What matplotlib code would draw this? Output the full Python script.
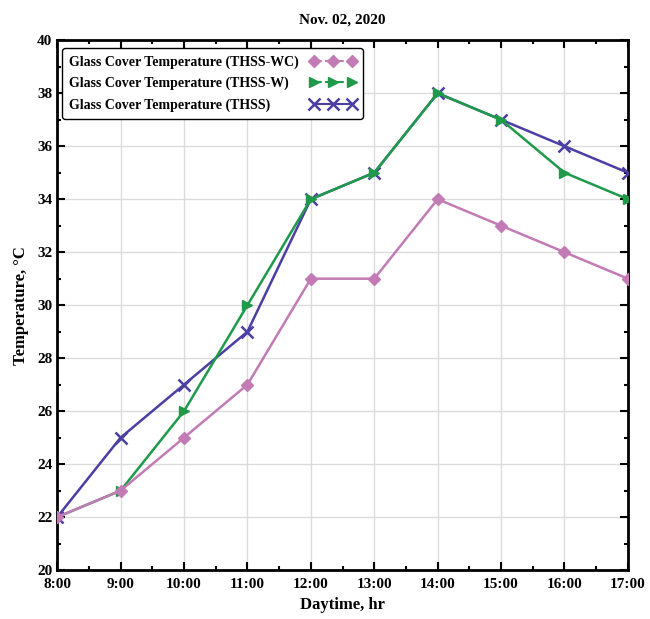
import matplotlib.pyplot as plt
from matplotlib.lines import Line2D

hours = ['8:00', '9:00', '10:00', '11:00', '12:00', '13:00', '14:00', '15:00', '16:00', '17:00']
thss_wc = [22, 23, 25, 27, 31, 31, 34, 33, 32, 31]
thss_w = [22, 23, 26, 30, 34, 35, 38, 37, 35, 34]
thss = [22, 25, 27, 29, 34, 35, 38, 37, 36, 35]

plt.rcParams['font.family'] = 'Liberation Serif'
plt.rcParams['font.weight'] = 'bold'

fig = plt.figure(figsize=(6.5, 6.19), dpi=100)
ax = fig.add_axes([0.088, 0.079, 0.878, 0.856])

x = list(range(len(hours)))
c_wc = '#c27bb5'
c_w = '#1f9a4a'
c_t = '#4b3fa3'

ax.plot(x, thss_wc, color=c_wc, marker='D', ms=6, lw=1.8, zorder=5)
ax.plot(x, thss_w, color=c_w, marker='>', ms=7, lw=1.8, zorder=4)
ax.plot(x, thss, color=c_t, marker='x', ms=8, mew=1.8, lw=1.8, zorder=3)

handles = [
    Line2D([], [], color=c_wc, marker='D', ms=6, lw=1.5, ls='--'),
    Line2D([], [], color=c_w, marker='>', ms=7, lw=1.5, ls='--'),
    Line2D([], [], color=c_t, marker='x', ms=8, mew=1.8, lw=1.5),
]
labels = ['Glass Cover Temperature (THSS-WC)',
          'Glass Cover Temperature (THSS-W)',
          'Glass Cover Temperature (THSS)']
leg = ax.legend(handles, labels, loc='upper left', numpoints=3, fontsize=10,
                frameon=True, fancybox=True, edgecolor='black', framealpha=1,
                handlelength=3.3, handletextpad=0.8, borderpad=0.5,
                labelspacing=0.6, markerfirst=False, borderaxespad=0,
                bbox_to_anchor=(0.009, 0.985))
leg.get_frame().set_linewidth(1.0)

# left-align the labels while keeping the handles lined up on the right
fig.canvas.draw()
widths = [t.get_window_extent().width for t in leg.get_texts()]
rows = leg._legend_handle_box.get_children()[0].get_children()
for row, w in zip(rows, widths):
    row.sep += (max(widths) - w) * 72 / fig.dpi

ax.set_xlim(0, 9)
ax.set_ylim(20, 40)
ax.set_xticks(x)
ax.set_xticklabels(hours)
ax.set_xticks([i + 0.5 for i in range(9)], minor=True)
ax.set_yticks(range(20, 41, 2))
ax.set_yticks(range(21, 40, 2), minor=True)
ax.grid(True, which='major', color='#dcdcdc', lw=1)
ax.set_axisbelow(True)
ax.tick_params(which='both', direction='in', top=True, right=True, labelsize=11)
ax.tick_params(which='major', length=6, width=1.5)
ax.tick_params(which='minor', length=3, width=1.5)
ax.tick_params(axis='x', pad=6)
for s in ax.spines.values():
    s.set_linewidth(2)

ax.set_xlabel('Daytime, hr', fontsize=12, fontweight='bold', labelpad=4)
ax.set_ylabel('Temperature, \u00b0C', fontsize=12, fontweight='bold', labelpad=6)
ax.set_title('Nov. 02, 2020', fontsize=11, fontweight='bold', pad=12)

fig.savefig('out.png', dpi=100)
